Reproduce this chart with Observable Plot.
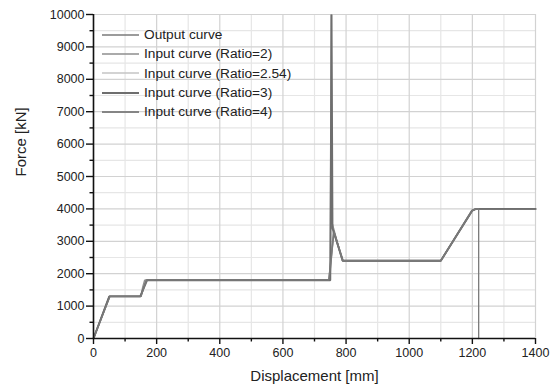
<!DOCTYPE html>
<html>
<head>
<meta charset="utf-8">
<script src="https://cdn.jsdelivr.net/npm/d3@7"></script>
<script src="https://cdn.jsdelivr.net/npm/@observablehq/plot@0.6"></script>
<style>
  body { margin: 0; background: #fff; font-family: "Liberation Sans", Arial, sans-serif; }
  #wrap { position: relative; width: 559px; height: 392px; }
  #legend { position: absolute; left: 102px; top: 25px; font-size: 13.7px; color: #222; }
  #legend .row { height: 19.3px; display: flex; align-items: center; }
  #legend svg { margin-right: 5px; }
</style>
</head>
<body>
<div id="wrap"><div id="legend"></div></div>
<script>
// Series names
const seriesNames = ["Output curve", "Input curve (Ratio=2)", "Input curve (Ratio=2.54)", "Input curve (Ratio=3)", "Input curve (Ratio=4)"];

// Displacement [mm] / Force [kN]
const outputX = [0, 52, 150, 168, 745, 762, 790, 1100, 1200, 1212, 1220, 1220];
const outputY = [0, 1300, 1300, 1800, 1800, 3300, 2400, 2400, 3950, 4000, 4000, 0];

const ratio2X = [0, 50, 150, 155, 162, 750, 753, 755, 788, 1100, 1198, 1210, 1400];
const ratio2Y = [0, 1300, 1300, 1550, 1800, 1800, 10000, 3600, 2400, 2400, 3950, 4000, 4000];

const ratio254X = [0, 52, 150, 165, 748, 760, 790, 1100, 1200, 1212, 1400];
const ratio254Y = [0, 1300, 1300, 1800, 1800, 3300, 2400, 2400, 3950, 4000, 4000];

const ratio3X = [0, 50, 148, 170, 750, 754, 757, 790, 1100, 1200, 1212, 1400];
const ratio3Y = [0, 1300, 1300, 1800, 1800, 10000, 3400, 2400, 2400, 3950, 4000, 4000];

const ratio4X = [0, 51, 150, 166, 746, 761, 789, 1100, 1199, 1211, 1400];
const ratio4Y = [0, 1300, 1300, 1800, 1800, 3300, 2400, 2400, 3950, 4000, 4000];

const xMajorTicks = [0, 200, 400, 600, 800, 1000, 1200, 1400];
const xMinorTicks = [100, 300, 500, 700, 900, 1100, 1300];
const yMajorTicks = [0, 1000, 2000, 3000, 4000, 5000, 6000, 7000, 8000, 9000, 10000];
const yMinorTicks = [500, 1500, 2500, 3500, 4500, 5500, 6500, 7500, 8500, 9500];

const seriesStyles = [
  {stroke: "#7a7a7a", width: 1.3},
  {stroke: "#8e8e8e", width: 1.4},
  {stroke: "#c4c4c4", width: 1.5},
  {stroke: "#6e6e6e", width: 1.9},
  {stroke: "#858585", width: 1.8}
];

const raw = [[outputX, outputY], [ratio2X, ratio2Y], [ratio254X, ratio254Y], [ratio3X, ratio3Y], [ratio4X, ratio4Y]];
const tables = raw.map(([xs, ys], i) => xs.map((x, j) => ({x, y: ys[j], series: seriesNames[i]})));

const drawOrder = [2, 4, 1, 3, 0];

const chart = Plot.plot({
  width: 559,
  height: 392,
  marginLeft: 93,
  marginRight: 24,
  marginTop: 14,
  marginBottom: 54,
  style: {fontFamily: "Liberation Sans, Arial, sans-serif", fontSize: "12.5px", color: "#222", background: "#fff"},
  x: {domain: [0, 1400], label: null},
  y: {domain: [0, 10000], label: null},
  marks: [
    Plot.gridX(xMinorTicks, {stroke: "#e6e6e6", strokeOpacity: 1, strokeWidth: 1.2}),
    Plot.gridY(yMinorTicks, {stroke: "#e6e6e6", strokeOpacity: 1, strokeWidth: 1.2}),
    Plot.gridX(xMajorTicks, {stroke: "#d2d2d2", strokeOpacity: 1, strokeWidth: 1.2}),
    Plot.gridY(yMajorTicks, {stroke: "#d2d2d2", strokeOpacity: 1, strokeWidth: 1.2}),
    ...drawOrder.map(i => Plot.line(tables[i], {x: "x", y: "y", stroke: seriesStyles[i].stroke, strokeWidth: seriesStyles[i].width, strokeLinejoin: "miter"})),
    Plot.axisX(xMinorTicks, {tickSize: 3.5, tickFormat: () => "", stroke: "#111", strokeWidth: 1.4, label: null}),
    Plot.axisY(yMinorTicks, {tickSize: 3.5, tickFormat: () => "", stroke: "#111", strokeWidth: 1.4, label: null}),
    Plot.axisX(xMajorTicks, {tickSize: 6, tickPadding: 4, stroke: "#111", strokeWidth: 1.4, label: null, fill: "#222", tickFormat: d => String(d)}),
    Plot.axisY(yMajorTicks, {tickSize: 7, tickPadding: 2, stroke: "#111", strokeWidth: 1.4, label: null, fill: "#222", tickFormat: d => String(d)}),
    Plot.ruleX([0], {stroke: "#111", strokeWidth: 1.6}),
    Plot.ruleY([0], {stroke: "#111", strokeWidth: 1.6}),
    Plot.text(["Displacement [mm]"], {frameAnchor: "bottom", dy: 42, fontSize: 15, fill: "#222", text: d => d}),
    Plot.text(["Force [kN]"], {frameAnchor: "left", dx: -72, rotate: -90, fontSize: 15, fill: "#222", text: d => d})
  ]
});
document.getElementById("wrap").prepend(chart);

const legend = document.getElementById("legend");
seriesNames.forEach((name, i) => {
  const row = document.createElement("div");
  row.className = "row";
  row.innerHTML = `<svg width="37" height="6"><line x1="0" x2="37" y1="3" y2="3" stroke="${seriesStyles[i].stroke}" stroke-width="${seriesStyles[i].width}"/></svg><span>${name}</span>`;
  legend.appendChild(row);
});
</script>
</body>
</html>
